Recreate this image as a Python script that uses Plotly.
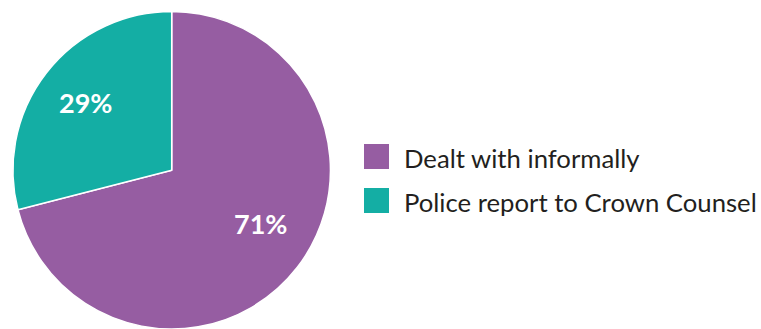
import plotly.graph_objects as go

W, H = 761, 329
labels = ["Dealt with informally", "Police report to Crown Counsel"]
values = [71, 29]
colors = ["#965DA2", "#14AEA4"]

FONT = "Lato"

fig = go.Figure(go.Pie(
    labels=labels, values=values, sort=False, direction="clockwise", rotation=0,
    marker=dict(colors=colors, line=dict(color="white", width=1.5)),
    textinfo="none",
    domain=dict(x=[12.5 / W, 330.9 / W], y=[0, 317.5 / H]),
    showlegend=False, hoverinfo="label+percent",
))

# percentage labels (placed in pixel space)
label_pos = [(260.5, 223), (85.5, 102)]
for v, (px, py) in zip(values, label_pos):
    fig.add_annotation(xref="paper", yref="paper", x=px / W, y=1 - py / H,
                       xanchor="center", yanchor="middle", showarrow=False,
                       text=f"{v}%", font=dict(family=FONT, size=27, color="white", weight="bold"))

# custom legend with large swatches
sq_x0, sq_size = 364, 25
rows_y = [156.5, 200.5]
for lab, col, yc in zip(labels, colors, rows_y):
    fig.add_shape(type="rect", xref="paper", yref="paper",
                  x0=sq_x0 / W, x1=(sq_x0 + sq_size) / W,
                  y0=1 - (yc + sq_size / 2) / H, y1=1 - (yc - sq_size / 2) / H,
                  fillcolor=col, line=dict(width=0))
    fig.add_annotation(xref="paper", yref="paper", x=402 / W, y=1 - (yc + 1) / H,
                       xanchor="left", yanchor="middle", showarrow=False, text=lab,
                       font=dict(family=FONT, size=25.7, color="#231F20"))

fig.update_layout(width=W, height=H, margin=dict(l=0, r=0, t=0, b=0),
                  paper_bgcolor="white", plot_bgcolor="white")
fig.write_html("out.html")
